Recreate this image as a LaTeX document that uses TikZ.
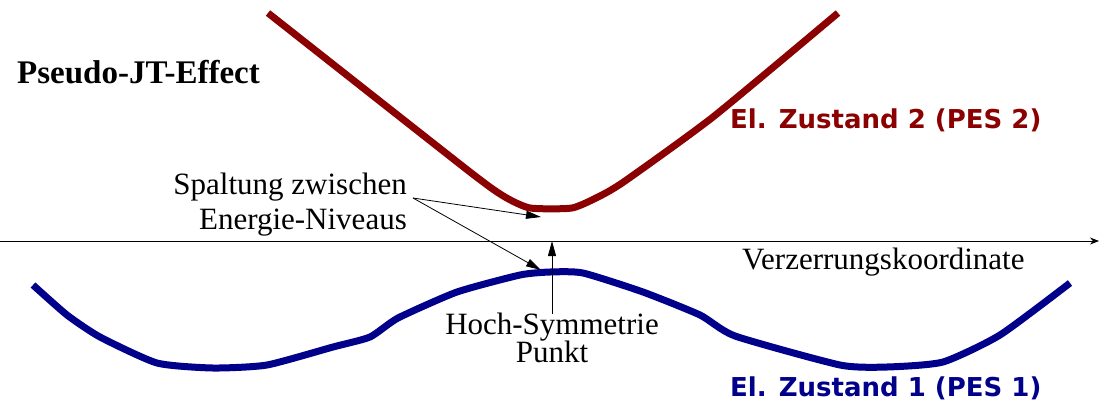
\documentclass[tikz,border=0pt]{standalone}
\usepackage{fontspec}
\setmainfont{Liberation Serif}
\newfontfamily\pesfont{DejaVu Sans}
\usetikzlibrary{positioning, arrows.meta}
\definecolor{pesred}{RGB}{139,0,0}
\definecolor{pesblue}{RGB}{0,0,139}

\begin{document}
\begin{tikzpicture}[x=1pt, y=-1pt, >=Stealth,
    pes/.style={line width=7pt, line join=round},
    lbl/.style={inner sep=0pt, font=\fontsize{31}{35}\selectfont},
    pesname/.style={inner sep=0pt, anchor=base west, font=\pesfont\bfseries\fontsize{26}{30}\selectfont},
    pointer/.style={-{Triangle[length=15pt,width=8pt]}, line width=0.8pt}]
  \useasboundingbox (0,0) rectangle (1100,405);

  % --- Titel ---
  \node[inner sep=0pt, anchor=base west, font=\bfseries\fontsize{33}{38}\selectfont]
    (title) at (17,83) {Pseudo-JT-Effect};

  % --- Achse ---
  \coordinate (axl) at (0,241);
  \coordinate (axr) at (1099,241);
  \draw[-{Stealth[length=9pt,width=7pt]}, line width=0.8pt] (axl) -- (axr);
  \node[lbl, anchor=base west] (coord) at (742,269) {Verzerrungskoordinate};

  % --- PES 2 (oben) ---
  \draw[pes, pesred] plot[smooth, tension=0.35] coordinates {
    (268,13) (470,172) (505,197) (530,208) (572,208) (600,196)
    (625,181) (713,117) (838,13)};
  \node[pesname, pesred] (pes2) at (730,128) {El. Zustand 2 (PES 2)};

  % --- PES 1 (unten) ---
  \draw[pes, pesblue] plot[smooth, tension=0.35] coordinates {
    (33,285) (67,315) (100,337) (157,363) (213,368) (267,365)
    (333,347) (370,337) (398,318) (457,292) (520,275) (550,272)
    (583,273) (643,292) (700,315) (735,336) (840,365) (887,367)
    (943,362) (1000,335) (1070,283)};
  \node[pesname, pesblue] (pes1) at (730,396) {El. Zustand 1 (PES 1)};

  % --- Aufspaltung ---
  % base = letzte Zeile
  \node[lbl, anchor=base east, align=right] (split) at (407,229)
    {Spaltung zwischen\\Energie-Niveaus};
  \coordinate (splitfrom) at (413,198);
  \coordinate (min2) at (541,217);
  \coordinate (max1) at (541,270);
  \draw[pointer] (splitfrom) -- (min2);
  \draw[pointer] (splitfrom) -- (max1);

  % --- Hoch-Symmetrie-Punkt ---
  \node[lbl, anchor=base, align=center] (hsp) at (552,362)
    {Hoch-Symmetrie\\[-7pt]Punkt};
  \coordinate (hspfoot) at (552,314);
  \coordinate (hsptop) at (552,241);
  \draw[pointer] (hspfoot) -- (hsptop);
\end{tikzpicture}
\end{document}
